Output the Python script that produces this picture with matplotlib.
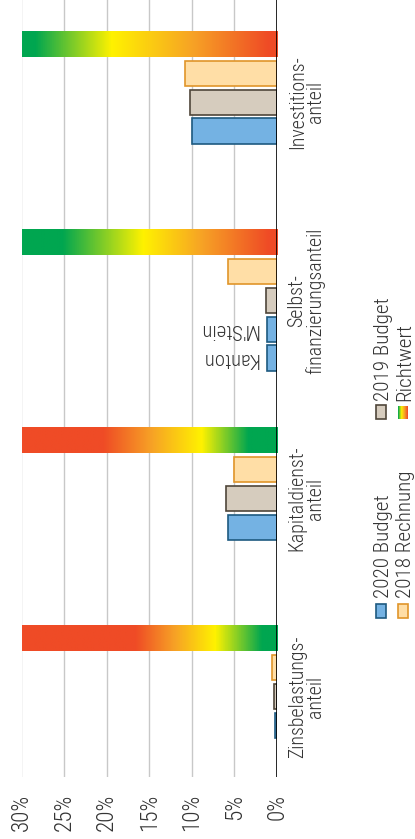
import os
import numpy as np
import matplotlib
matplotlib.use("Agg")
import matplotlib.pyplot as plt
from matplotlib import font_manager as fm
from matplotlib.textpath import TextPath
from matplotlib.colors import LinearSegmentedColormap
from matplotlib.patches import Rectangle
import matplotlib.transforms as mtrans

# look for a condensed / narrow face, the original uses one
wanted = ['notosanscondensedlight', 'notosanscondensed.', 'notosanscondensedregular',
          'opensanscondensedlight', 'robotocondensedlight', 'robotocondensedregular',
          'liberationsansnarrowregular', 'liberationsansnarrow.', 'dejavusanscondensed.']
files = {}
for f in fm.fontManager.ttflist:
    key = os.path.basename(f.fname).lower().replace('-', '').replace('_', '').replace(' ', '')
    files[key] = f.fname
base_prop = fm.FontProperties(family='Open Sans')
for w in wanted:
    hit = [k for k in files if k.startswith(w)]
    if hit:
        base_prop = fm.FontProperties(fname=files[sorted(hit)[0]])
        break


def fit(s, length_px):
    # font size that gives the text the same length as in the original
    w = TextPath((0, 0), s, size=100, prop=base_prop).get_extents().width
    return length_px * 0.72 / w * 100


def fp(size):
    p = base_prop.copy()
    p.set_size(size)
    return p


# data (percent)
categories = ['Zinsbelastungs-\nanteil', 'Kapitaldienst-\nanteil',
              'Selbst-\nfinanzierungsanteil', 'Investitions-\nanteil']
r2018 = [0.55, 5.1, 5.7, 10.8]
b2019 = [0.35, 6.0, 1.35, 10.2]
b2020 = [0.2, 5.7, 1.15, 10.0]
b2020_kanton = [None, None, 1.15, None]
sub_labels = ["M'Stein", 'Kanton']
tick_vals = [30, 25, 20, 15, 10, 5, 0]
tick_labels = ['30%', '25%', '20%', '15%', '10%', '5%', '0%']
richtwert_max = 30

green, yellow, orange, red = '#00A650', '#FFF200', '#F7A325', '#EF4B26'
# colour stops of the Richtwert bars (percent, colour)
rw_zins = [(0, green), (1.8, green), (7.3, yellow), (12, orange), (16.7, red), (30, red)]
rw_kapital = [(0, green), (3.4, green), (8.9, yellow), (14.7, orange), (20.5, red), (30, red)]
rw_selbst = [(0, red), (1, red), (8.9, orange), (15.8, yellow), (25.3, green), (30, green)]
rw_invest = [(0, red), (1, red), (10, orange), (19.5, yellow), (28.5, green), (30, green)]
rw_stops = [rw_zins, rw_kapital, rw_selbst, rw_invest]

col_2020 = ('#74B2E3', '#1E5A80')
col_2019 = ('#D6CCBE', '#4F463A')
col_2018 = ('#FFDEA6', '#E0952A')
txt = '#333333'

fs_cat = (fit('Investitions-', 93) + fit('Zinsbelastungs-', 120)) / 2
fs_tick = fit('30%', 35)
fs_leg = fit('2019 Budget', 102)
fs_sub = fit("M'Stein", 56)

fig = plt.figure(figsize=(4.15, 8.39), dpi=100)
ax = fig.add_axes([21.5/415, 62/839, 255.5/415, 777/839])

slot = 0.1459
bh = 0.128
y = np.arange(len(categories))

ax.barh(y + slot, r2018, height=bh, color=col_2018[0], edgecolor=col_2018[1], lw=1.2, zorder=3)
ax.barh(y, b2019, height=bh, color=col_2019[0], edgecolor=col_2019[1], lw=1.2, zorder=3)
ax.barh(y - slot, b2020, height=bh, color=col_2020[0], edgecolor=col_2020[1], lw=1.2, zorder=3)
for i, v in enumerate(b2020_kanton):
    if v is None:
        continue
    ax.barh(y[i] - 2*slot, v, height=bh, color=col_2020[0], edgecolor=col_2020[1], lw=1.2, zorder=3)
    ax.text(b2020[i] + 1.0, y[i] - slot, sub_labels[0], rotation=180, ha='right',
            va='center', fontproperties=fp(fs_sub), color=txt)
    ax.text(v + 1.0, y[i] - 2*slot, sub_labels[1], rotation=180, ha='right',
            va='center', fontproperties=fp(fs_sub), color=txt)

# gradient Richtwert bars
grad = np.linspace(0, richtwert_max, 400).reshape(1, -1)
for i, stops in enumerate(rw_stops):
    cm = LinearSegmentedColormap.from_list('rw%d' % i, [(p / richtwert_max, c) for p, c in stops])
    yc = y[i] + 2*slot
    ax.imshow(grad, cmap=cm, aspect='auto', vmin=0, vmax=richtwert_max,
              extent=(0, richtwert_max, yc - bh/2, yc + bh/2), zorder=3)

ax.set_xlim(30, 0)
ax.set_ylim(-0.406, 3.516)
ax.set_xticks(tick_vals)
ax.set_xticklabels(tick_labels, rotation=90, color=txt)
for lbl in ax.get_xticklabels():
    lbl.set_fontproperties(fp(fs_tick))
ax.tick_params(axis='x', length=0, pad=12)
ax.set_yticks([])
ax.grid(axis='x', color='#C8C8C8', lw=1)
ax.set_axisbelow(True)
for s in ax.spines.values():
    s.set_visible(False)
ax.axvline(0, color='black', lw=1.9, zorder=4)

tr = mtrans.blended_transform_factory(ax.transAxes, ax.transData)
for i, lab in enumerate(categories):
    ax.text(1.115, y[i], lab, transform=tr, rotation=90, ha='center', va='center',
            multialignment='center', fontproperties=fp(fs_cat), color=txt, linespacing=0.95)


# legend drawn by hand (rotated)
def px(x, yy):
    return x / 415, 1 - yy / 839


leg = [('2020 Budget', col_2020, 376, 618, 383, 598),
       ('2018 Rechnung', col_2018, 398, 618, 405, 598),
       ('2019 Budget', col_2019, 376, 419, 383, 401)]
for lab, col, x0, y0, tx, ty in leg:
    fig.add_artist(Rectangle(px(x0, y0), 10/415, 14/839, transform=fig.transFigure,
                             facecolor=col[0], edgecolor=col[1], lw=1.2))
    fig.text(*px(tx, ty), lab, rotation=90, ha='center', va='bottom',
             fontproperties=fp(fs_leg), color=txt)

lax = fig.add_axes([398/415, 1 - 419/839, 10/415, 13/839])
lcm = LinearSegmentedColormap.from_list('leg', [green, yellow, orange, red])
lax.imshow(np.linspace(0, 1, 20).reshape(1, -1), cmap=lcm, aspect='auto')
lax.axis('off')
fig.text(*px(405, 401), 'Richtwert', rotation=90, ha='center', va='bottom',
         fontproperties=fp(fs_leg), color=txt)

fig.savefig('out.png', dpi=100)
